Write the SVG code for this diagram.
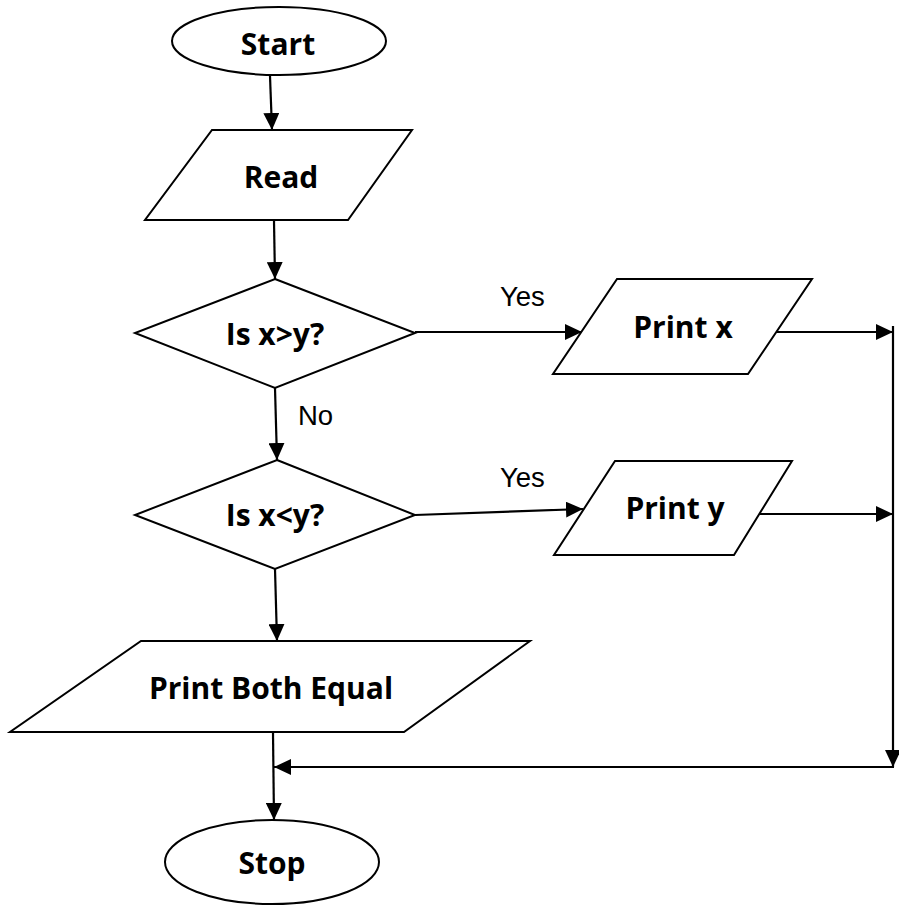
<svg xmlns="http://www.w3.org/2000/svg" width="899" height="905" viewBox="0 0 899 905">
<style>
.shape{fill:#fff;stroke:#000;stroke-width:2}
.lbl{font-family:"Open Sans","DejaVu Sans",sans-serif;font-weight:bold;font-size:30px;text-anchor:middle;fill:#000}
.edge{fill:none;stroke:#000;stroke-width:2.2}
.elbl{font-family:"Liberation Sans",Arial,sans-serif;font-size:27.5px;fill:#000}
</style>
<defs>
<marker id="arr" markerUnits="userSpaceOnUse" markerWidth="18" markerHeight="16" refX="17" refY="8" orient="auto">
<path d="M0,0 L17,8 L0,16 z" fill="#000"/>
</marker>
</defs>
<rect width="899" height="905" fill="#fff"/>
<g id="connectors">
<line class="edge" x1="270" y1="76" x2="272" y2="130" marker-end="url(#arr)"/>
<line class="edge" x1="274" y1="221" x2="275" y2="279" marker-end="url(#arr)"/>
<line class="edge" x1="275" y1="388" x2="277" y2="460" marker-end="url(#arr)"/>
<line class="edge" x1="275" y1="569" x2="277" y2="641" marker-end="url(#arr)"/>
<line class="edge" x1="415" y1="332" x2="582" y2="332" marker-end="url(#arr)"/>
<line class="edge" x1="415" y1="515" x2="583" y2="509" marker-end="url(#arr)"/>
<line class="edge" x1="775" y1="332" x2="893" y2="332" marker-end="url(#arr)"/>
<line class="edge" x1="759" y1="514" x2="893" y2="514" marker-end="url(#arr)"/>
<line class="edge" x1="893" y1="326" x2="893" y2="767" marker-end="url(#arr)"/>
<line class="edge" x1="894" y1="767" x2="274" y2="767" marker-end="url(#arr)"/>
<line class="edge" x1="273" y1="733" x2="274" y2="820" marker-end="url(#arr)"/>
<text class="elbl" x="500" y="306">Yes</text>
<text class="elbl" x="298" y="425">No</text>
<text class="elbl" x="500" y="487">Yes</text>
</g>
<g id="start">
<ellipse class="shape" cx="279" cy="41" rx="107" ry="34"/>
<text class="lbl" x="278" y="55">Start</text>
</g>
<g id="read">
<polygon class="shape" points="212,130 412,130 348,220 145,220"/>
<text class="lbl" x="281" y="188">Read</text>
</g>
<g id="dec1">
<polygon class="shape" points="275,279 415,333 275,388 135,333"/>
<text class="lbl" x="275" y="345">Is x&gt;y?</text>
</g>
<g id="printx">
<polygon class="shape" points="617,279 812,279 748,374 553,374"/>
<text class="lbl" x="683" y="338">Print x</text>
</g>
<g id="dec2">
<polygon class="shape" points="277,460 415,515 275,569 135,515"/>
<text class="lbl" x="275" y="526">Is x&lt;y?</text>
</g>
<g id="printy">
<polygon class="shape" points="615,461 792,461 734,555 554,555"/>
<text class="lbl" x="675" y="519">Print y</text>
</g>
<g id="printequal">
<polygon class="shape" points="141,641 530,641 404,732 10,732"/>
<text class="lbl" x="271" y="699">Print Both Equal</text>
</g>
<g id="stop">
<ellipse class="shape" cx="272" cy="862" rx="107" ry="42"/>
<text class="lbl" x="272" y="874">Stop</text>
</g>
</svg>
